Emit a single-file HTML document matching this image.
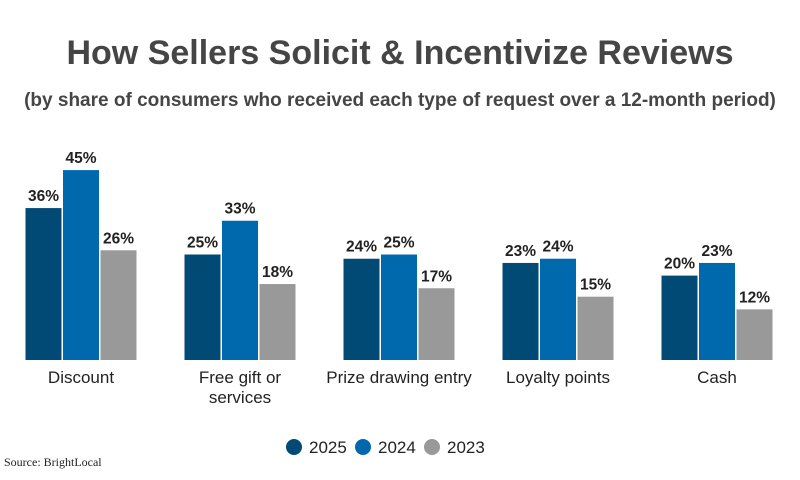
<!DOCTYPE html>
<html><head><meta charset="utf-8">
<style>
body{margin:0;background:#fff;width:800px;height:475px;overflow:hidden;font-family:"Liberation Sans",Arial,sans-serif}
</style></head>
<body>
<svg id="chart" width="800" height="475" xmlns="http://www.w3.org/2000/svg">
<text x="400" y="64" text-anchor="middle" font-size="34" font-weight="bold" fill="#454545">How Sellers Solicit &amp; Incentivize Reviews</text>
<text x="400" y="106" text-anchor="middle" font-size="19" font-weight="bold" fill="#454545">(by share of consumers who received each type of request over a 12-month period)</text>
<g id="bars"></g>
<g id="legend"></g>
<text x="4" y="466" font-family="Liberation Serif,serif" font-size="12" fill="#222">Source: BrightLocal</text>
</svg>
<script>
const categories=[["Discount"],["Free gift or","services"],["Prize drawing entry"],["Loyalty points"],["Cash"]];
const seriesNames=["2025","2024","2023"];
const v2025=[36,25,24,23,20];
const v2024=[45,33,25,24,23];
const v2023=[26,18,17,15,12];
const colors=["#004a75","#0068ad","#999999"];
const series=[v2025,v2024,v2023];
const NS="http://www.w3.org/2000/svg";
const base=360, scale=4.22, barW=36, gap=1.5, x0=81, step=159;
const yPos=v=>base-v*scale;
const xCenter=i=>x0+i*step;
const g=document.getElementById('bars');
function mk(t,a){const e=document.createElementNS(NS,t);for(const k in a)e.setAttribute(k,a[k]);return e;}
categories.forEach((c,i)=>{
  series.forEach((s,j)=>{
    const x=xCenter(i)+(j-1)*(barW+gap)-barW/2;
    const r=mk('rect',{x:x,y:yPos(s[i]),width:barW,height:base-yPos(s[i]),fill:colors[j]});
    
    
    g.appendChild(r);
    const t=mk('text',{x:x+barW/2,y:yPos(s[i])-7,'text-anchor':'middle','font-size':15.5,'font-weight':'bold',fill:'#222'});
    t.textContent=s[i]+'%';
    
    
    g.appendChild(t);
  });
  c.forEach((line,k)=>{
    const t=mk('text',{x:xCenter(i),y:383+k*20,'text-anchor':'middle','font-size':17,fill:'#222'});
    t.textContent=line;
    
    
    g.appendChild(t);
  });
});
const lg=document.getElementById('legend');
const lx=[294,363,432];
seriesNames.forEach((n,j)=>{
  const c=mk('circle',{cx:lx[j],cy:447,r:8,fill:colors[j]});
  
  
  lg.appendChild(c);
  const t=mk('text',{x:lx[j]+15,y:453,'font-size':17,fill:'#222'});
  t.textContent=n;
  
  
  lg.appendChild(t);
});
</script>
</body></html>
